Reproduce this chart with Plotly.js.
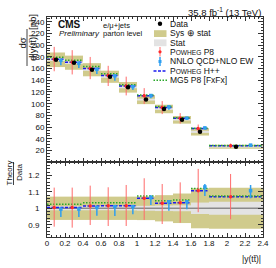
<!DOCTYPE html>
<html><head><meta charset="utf-8">
<script src="https://cdn.plot.ly/plotly-3.0.1.min.js"></script>
<style>html,body{margin:0;padding:0;background:#fff}#chart{width:276px;height:268px}</style>
</head><body><div id="chart"></div>
<script>
// ---- data ----
const binLo = [0.0, 0.2, 0.4, 0.6, 0.8, 1.0, 1.2, 1.4, 1.6, 1.8];
const binHi = [0.2, 0.4, 0.6, 0.8, 1.0, 1.2, 1.4, 1.6, 1.8, 2.4];
const dataXsec = [175, 170, 158, 146, 128, 107, 91, 72.5, 52, 26.5];
const statRel = [0.012, 0.012, 0.012, 0.012, 0.013, 0.015, 0.017, 0.018, 0.035, 0.04];
const totRel = [0.071, 0.071, 0.071, 0.071, 0.071, 0.072, 0.08, 0.09, 0.122, 0.125];
const powhegP8Ratio = [1.004, 1.004, 1.014, 1.016, 1.016, 1.061, 1.03, 1.034, 1.107, 1.071];
const powhegP8Up = [0.122, 0.122, 0.124, 0.112, 0.126, 0.122, 0.118, 0.124, 0.133, 0.138];
const powhegP8Down = [0.116, 0.122, 0.116, 0.124, 0.124, 0.132, 0.126, 0.122, 0.131, 0.138];
const nnloRatio = [0.995, 0.995, 1.005, 1.01, 1.01, 1.065, 1.04, 1.04, 1.13, 1.107];
const nnloUp = [0.008, 0.008, 0.009, 0.01, 0.01, 0.016, 0.01, 0.01, 0.018, 0.035];
const nnloDown = [0.048, 0.048, 0.05, 0.057, 0.047, 0.045, 0.055, 0.046, 0.055, 0.046];
const powhegHppRatio = [1.004, 1.004, 1.014, 1.016, 1.016, 1.061, 1.03, 1.034, 1.107, 1.071];
const mg5Ratio = [1.024, 1.024, 1.034, 1.034, 1.034, 1.075, 1.046, 1.05, 1.12, 1.075];

// ---- derived ----
const centers = binLo.map((l, i) => (l + binHi[i]) / 2);
const widths = binLo.map((l, i) => binHi[i] - l);
const xRed = binLo.map((l, i) => l + 0.4 * widths[i]);
const xBlue = binLo.map((l, i) => l + 0.77 * widths[i]);
function steps(vals) {
  const x = [], y = [];
  vals.forEach((v, i) => { x.push(binLo[i], binHi[i], null); y.push(v, v, null); });
  return {x, y};
}
const abs = r => r.map((v, i) => v * dataXsec[i]);

const KHAKI = '#d0cb8c', GRAY = '#e3e3e3', RED = '#ff2a2a', REDBAR = '#ff6b6b',
      BLUE = '#2f9ff0', DBLUE = '#1a1aee', GREEN = '#2aa82a';

const traces = [];
// top panel
traces.push({type: 'bar', x: centers, width: widths, base: dataXsec.map((d, i) => d * (1 - totRel[i])),
  y: dataXsec.map((d, i) => 2 * d * totRel[i]), marker: {color: KHAKI, line: {width: 0}}, xaxis: 'x', yaxis: 'y'});
traces.push({type: 'bar', x: centers, width: widths, base: dataXsec.map((d, i) => d * (1 - statRel[i])),
  y: dataXsec.map((d, i) => 2 * d * statRel[i]), marker: {color: GRAY, line: {width: 0}}, xaxis: 'x', yaxis: 'y'});
let s = steps(abs(powhegHppRatio));
traces.push({type: 'scatter', mode: 'lines', x: s.x, y: s.y, line: {color: DBLUE, width: 1.5, dash: '3px,1.5px'}, xaxis: 'x', yaxis: 'y'});
s = steps(abs(mg5Ratio));
traces.push({type: 'scatter', mode: 'lines', x: s.x, y: s.y, line: {color: GREEN, width: 1.5, dash: '1.5px,1.5px'}, xaxis: 'x', yaxis: 'y'});
traces.push({type: 'scatter', mode: 'markers', x: xRed, y: abs(powhegP8Ratio),
  error_y: {type: 'data', symmetric: false, array: abs(powhegP8Up), arrayminus: abs(powhegP8Down), color: REDBAR, thickness: 1, width: 0},
  marker: {color: RED, size: 3.5}, xaxis: 'x', yaxis: 'y'});
traces.push({type: 'scatter', mode: 'markers', x: xBlue, y: abs(nnloRatio),
  error_y: {type: 'data', symmetric: false, array: abs(nnloUp), arrayminus: abs(nnloDown), color: BLUE, thickness: 1.5, width: 0},
  marker: {color: BLUE, size: 3.5, symbol: 'square'}, xaxis: 'x', yaxis: 'y'});
traces.push({type: 'scatter', mode: 'markers', x: centers, y: dataXsec,
  marker: {color: '#000', size: 4.5}, xaxis: 'x', yaxis: 'y'});

// ratio panel
traces.push({type: 'bar', x: centers, width: widths, base: totRel.map(t => 1 - t), y: totRel.map(t => 2 * t),
  marker: {color: KHAKI, line: {width: 0}}, xaxis: 'x2', yaxis: 'y2'});
traces.push({type: 'bar', x: centers, width: widths, base: statRel.map(t => 1 - t), y: statRel.map(t => 2 * t),
  marker: {color: GRAY, line: {width: 0}}, xaxis: 'x2', yaxis: 'y2'});
s = steps(dataXsec.map(d => d / d));
traces.push({type: 'scatter', mode: 'lines', x: s.x, y: s.y, line: {color: '#8a8a8a', width: 1.5}, xaxis: 'x2', yaxis: 'y2'});
s = steps(powhegHppRatio);
traces.push({type: 'scatter', mode: 'lines', x: s.x, y: s.y, line: {color: DBLUE, width: 1.5, dash: '3px,1.5px'}, xaxis: 'x2', yaxis: 'y2'});
s = steps(mg5Ratio);
traces.push({type: 'scatter', mode: 'lines', x: s.x, y: s.y, line: {color: GREEN, width: 1.5, dash: '1.5px,1.5px'}, xaxis: 'x2', yaxis: 'y2'});
traces.push({type: 'scatter', mode: 'markers', x: xRed, y: powhegP8Ratio,
  error_y: {type: 'data', symmetric: false, array: powhegP8Up, arrayminus: powhegP8Down, color: REDBAR, thickness: 1, width: 0},
  marker: {color: RED, size: 3.5}, xaxis: 'x2', yaxis: 'y2'});
traces.push({type: 'scatter', mode: 'markers', x: xBlue, y: nnloRatio,
  error_y: {type: 'data', symmetric: false, array: nnloUp, arrayminus: nnloDown, color: BLUE, thickness: 1.5, width: 0},
  marker: {color: BLUE, size: 3.5, symbol: 'square'}, xaxis: 'x2', yaxis: 'y2'});

// ---- layout helpers (pixel -> paper) ----
const L = 47, T = 17, W = 216, H = 220;
const PX = p => (p - L) / W, PY = p => (T + H - p) / H;
const FONT = 'Liberation Sans, Arial, sans-serif';
const tickFont = {family: FONT, size: 8, color: '#111'};
const AX = '#333';

function ann(text, x, y, size, opts) {
  return Object.assign({xref: 'paper', yref: 'paper', x: PX(x), y: PY(y), text: text, showarrow: false,
    xanchor: 'left', yanchor: 'middle', font: {family: FONT, size: size, color: '#111'}}, opts || {});
}
const sc = t => 'P<span style="font-size:6.6px">' + t + '</span>';

const annotations = [
  ann('35.8 fb<sup>-1</sup> (13 TeV)', 263, 11.5, 9.5, {xanchor: 'right'}),
  ann('<b>CMS</b>', 56, 24, 10),
  ann('<i>Preliminary</i>', 57, 33.5, 8),
  ann('e/μ+jets', 101, 25, 7.6),
  ann('parton level', 101, 33.5, 7.6),
  ann('Data', 167.5, 23.8, 8.5),
  ann('Sys ⊕ stat', 167.5, 33.4, 8.5),
  ann('Stat', 167.5, 42.6, 8.5),
  ann(sc('OWHEG') + ' P8', 167.5, 51.8, 8.5),
  ann('NNLO QCD+NLO EW', 167.5, 61.4, 8.5),
  ann(sc('OWHEG') + ' H++', 167.5, 70.9, 8.5),
  ann('MG5 P8 [FxFx]', 167.5, 80.3, 8.5),
  ann('|y(tt\u0304)|', 262.5, 258.5, 8.5, {xanchor: 'right'}),
  ann('dσ', 21.5, 43, 9.5, {xanchor: 'center', textangle: -90}),
  ann('d|y(tt\u0304)|', 33, 48, 9.5, {xanchor: 'center', textangle: -90}),
  ann('[pb]', 33, 22, 9.5, {xanchor: 'center', textangle: -90}),
  ann('Theory', 8.5, 173, 8, {xanchor: 'center', textangle: -90}),
  ann('Data', 19, 173, 8, {xanchor: 'center', textangle: -90})
];

function rect(x0, y0, x1, y1, color) {
  return {type: 'rect', xref: 'paper', yref: 'paper', x0: PX(x0), x1: PX(x1), y0: PY(y1), y1: PY(y0),
    fillcolor: color, line: {width: 0}, layer: 'above'};
}
function seg(x0, y0, x1, y1, color, width, dash) {
  return {type: 'line', xref: 'paper', yref: 'paper', x0: PX(x0), x1: PX(x1), y0: PY(y0), y1: PY(y1),
    line: {color: color, width: width, dash: dash || 'solid'}, layer: 'above'};
}
function dot(cx, cy, r, color) {
  return {type: 'circle', xref: 'paper', yref: 'paper', x0: PX(cx - r), x1: PX(cx + r), y0: PY(cy + r), y1: PY(cy - r),
    fillcolor: color, line: {width: 0}, layer: 'above'};
}
const shapes = [
  dot(160, 23.8, 2.2, '#000'),
  rect(154, 30.2, 166.5, 37, KHAKI),
  rect(154, 39.4, 166.5, 46.2, GRAY),
  seg(160, 47, 160, 56.5, REDBAR, 1),
  dot(160, 51.8, 1.6, RED),
  seg(160, 57, 160, 66, BLUE, 1.5),
  rect(158.5, 60, 161.5, 63, BLUE),
  seg(153.5, 70.9, 167, 70.9, DBLUE, 1.5, '3px,1.5px'),
  seg(153.5, 80.3, 167, 80.3, GREEN, 1.5, '1.5px,1.5px'),
  // y-title fraction bars
  seg(27, 29, 27, 66, '#111', 0.8),
  seg(13.5, 162, 13.5, 185, '#111', 0.8)
];

const split = 75 / 220;
const common = {showgrid: false, zeroline: false, showline: true, linecolor: AX, linewidth: 1, mirror: 'ticks',
  ticks: 'inside', tickcolor: AX, tickfont: tickFont};
const layout = {
  width: 276, height: 268, margin: {l: L, r: 13, t: T, b: 31},
  paper_bgcolor: '#fff', plot_bgcolor: '#fff', showlegend: false, barmode: 'overlay',
  font: {family: FONT},
  xaxis: Object.assign({}, common, {domain: [0, 1], anchor: 'y', range: [0, 2.4], tick0: 0, dtick: 0.2, ticklen: 4,
    showticklabels: false, minor: {dtick: 0.05, ticklen: 2, ticks: 'inside', tickcolor: AX}}),
  yaxis: Object.assign({}, common, {domain: [split, 1], anchor: 'x', range: [0.5, 248], tick0: 0, dtick: 20, ticklen: 5,
    minor: {dtick: 5, ticklen: 2.5, ticks: 'inside', tickcolor: AX}}),
  xaxis2: Object.assign({}, common, {domain: [0, 1], anchor: 'y2', range: [0, 2.4], tick0: 0, dtick: 0.2, ticklen: 4,
    ticklabelstandoff: -2, minor: {dtick: 0.05, ticklen: 2, ticks: 'inside', tickcolor: AX}}),
  yaxis2: Object.assign({}, common, {domain: [0, split], anchor: 'x2', range: [0.825, 1.282], tick0: 0, dtick: 0.1, ticklen: 5,
    ticklabelstandoff: 5, minor: {dtick: 0.02, ticklen: 2.5, ticks: 'inside', tickcolor: AX}}),
  annotations: annotations, shapes: shapes
};
Plotly.newPlot('chart', traces, layout, {staticPlot: true, displayModeBar: false});
</script>
</body></html>
